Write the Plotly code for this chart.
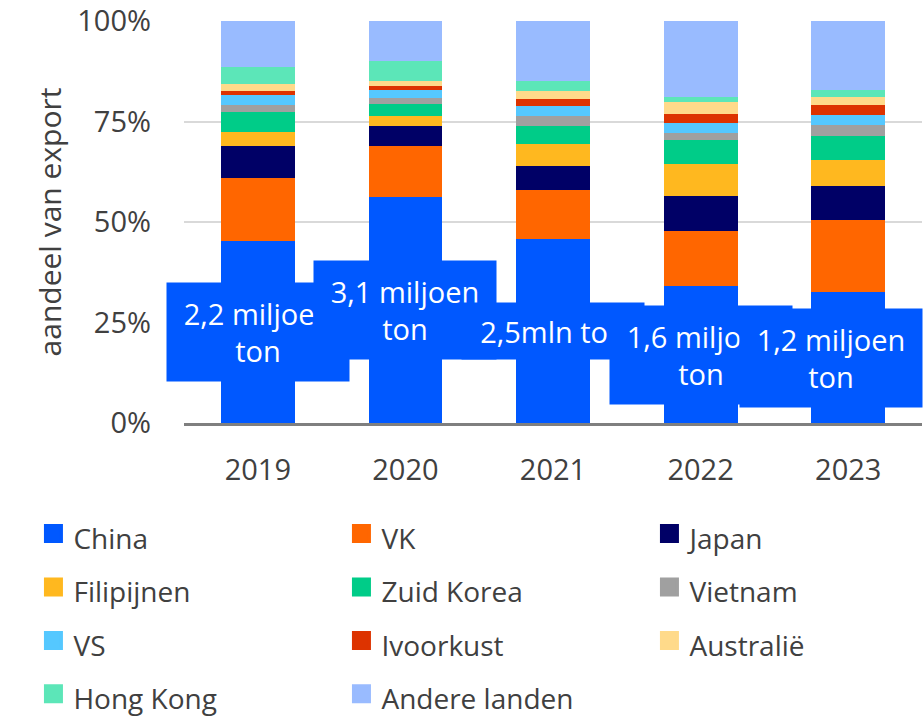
import plotly.graph_objects as go

years = ["2019", "2020", "2021", "2022", "2023"]

countries = ["China", "VK", "Japan", "Filipijnen", "Zuid Korea", "Vietnam",
             "VS", "Ivoorkust", "Australië", "Hong Kong", "Andere landen"]

china = [45.2, 56.1, 45.7, 34.0, 32.5]
vk = [15.8, 12.8, 12.3, 13.8, 17.9]
japan = [7.8, 5.1, 5.9, 8.6, 8.5]
filipijnen = [3.6, 2.4, 5.5, 8.0, 6.5]
zuid_korea = [4.9, 3.0, 4.6, 6.1, 5.9]
vietnam = [1.9, 1.5, 2.4, 1.7, 2.9]
vs = [2.3, 1.9, 2.4, 2.4, 2.3]
ivoorkust = [1.1, 1.0, 1.7, 2.2, 2.5]
australie = [1.7, 1.3, 2.2, 3.0, 2.0]
hong_kong = [4.2, 4.9, 2.5, 1.4, 1.8]
andere = [11.5, 10.0, 14.8, 18.8, 17.2]

series = [china, vk, japan, filipijnen, zuid_korea, vietnam,
          vs, ivoorkust, australie, hong_kong, andere]

colors = ["#0058FF", "#FF6600", "#000066", "#FFB81F", "#00CC88", "#A0A0A0",
          "#55C8FF", "#DD3300", "#FFDA8A", "#5CE6B8", "#99BBFF"]

volume_labels = ["2,2 miljoen<br>ton", "3,1 miljoen<br>ton", "2,5mln ton",
                 "1,6 miljoen<br>ton", "1,2 miljoen<br>ton"]

TEXT = "#404040"
FONT = "Open Sans"

fig = go.Figure()
for name, vals, col in zip(countries, series, colors):
    fig.add_trace(go.Bar(x=years, y=vals, name=name,
                         marker=dict(color=col, line=dict(width=0)),
                         showlegend=False))

# legend entries (larger square swatches)
for name, col in zip(countries, colors):
    fig.add_trace(go.Scatter(
        x=[years[0]], y=[None], mode="markers",
        name='<span style="font-size:28px">' + name + '</span>',
        marker=dict(symbol="square", size=16, color=col, line=dict(color=col, width=3)),
        showlegend=True, hoverinfo="skip"))

# volume labels inside China segment (x given as category index)
for i, lab in enumerate(volume_labels):
    two = "<br>" in lab
    fig.add_annotation(
        x=i, y=china[i] / 2, xref="x", yref="y", text=lab, showarrow=False,
        bgcolor="#0058FF", width=182, height=98 if two else 56, borderpad=0,
        font=dict(family=FONT, size=29, color="white"), align="center",
        xshift=-17 if i == len(volume_labels) - 1 else 0)

fig.update_layout(
    width=924, height=726,
    margin=dict(l=184, r=2, t=21, b=303, autoexpand=False),
    barmode="stack", bargap=0.5,
    plot_bgcolor="white", paper_bgcolor="white",
    font=dict(family=FONT, color=TEXT),
    legend=dict(orientation="h", x=-0.204, xanchor="left", y=-0.196, yanchor="top",
                entrywidth=263, entrywidthmode="pixels", traceorder="normal",
                itemsizing="trace", font=dict(size=38.8, color=TEXT, family=FONT)),
    xaxis=dict(type="category", range=[-0.5, 4.5], autorange=False,
               showline=True, linecolor="#7F7F7F", linewidth=3,
               ticks="", tickfont=dict(size=29, color=TEXT), ticklabelstandoff=19,
               showgrid=False),
    yaxis=dict(range=[0, 100], autorange=False, tickvals=[0, 25, 50, 75, 100],
               ticktext=["0%", "25%", "50%", "75%", "100%"], tickmode="array",
               showgrid=True, gridcolor="#D9D9D9", gridwidth=2, zeroline=False,
               showline=False, ticks="", tickfont=dict(size=29, color=TEXT),
               ticklabelstandoff=32,
               title=dict(text="aandeel van export", font=dict(size=30, color=TEXT), standoff=6)),
)

fig.write_html("out.html")
